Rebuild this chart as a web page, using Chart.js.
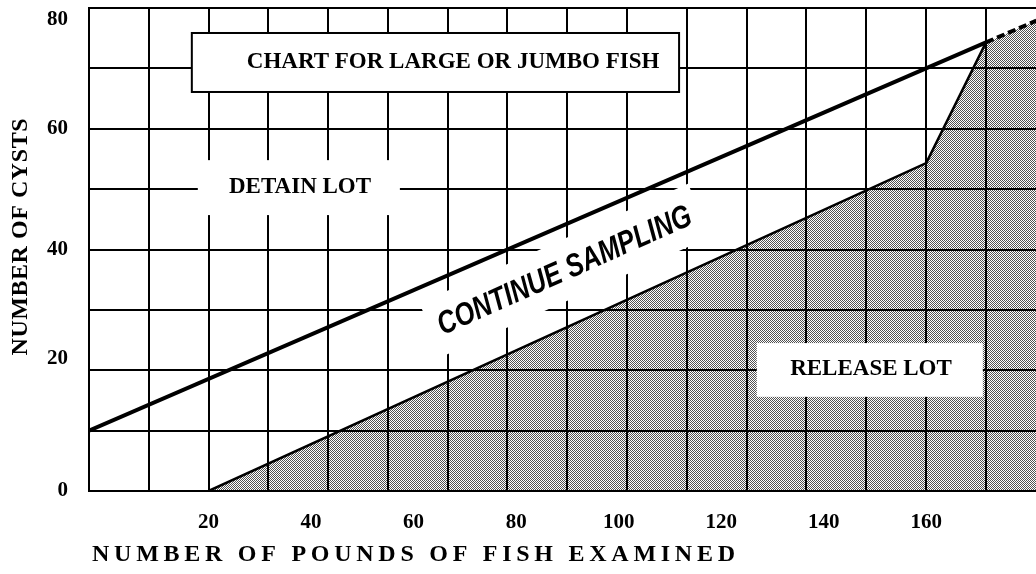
<!DOCTYPE html>
<html><head><meta charset="utf-8">
<script src="https://cdn.jsdelivr.net/npm/chart.js@4.4.1/dist/chart.umd.min.js"></script>
<style>html,body{margin:0;padding:0;background:#fff}</style>
</head><body>
<canvas id="c" width="1036" height="574"></canvas>
<script>
// ---- data ----
const poundTicks = [20, 40, 60, 80, 100, 120, 140, 160];
const cystTicks = [0, 20, 40, 60, 80];
const gridCells = [0,1,2,3,4,5,6,7,8,9,10,11,12,13,14,15];
const detainX = [-3.33, 171.67];
const detainY = [10, 74.3];
const detainExtX = [171.67, 181.5];
const detainExtY = [74.3, 77.9];
const releaseX = [20, 160, 171.67];
const releaseY = [0, 54.3, 74.3];
const shadeX = [20, 160, 171.67, 181.5];
const shadeY = [0, 54.3, 74.3, 77.9];
const xMin = -3.33, xMax = 181.42;   // pounds
const cellMax = 15.84;               // grid cells across the plot
const xTitle = 'NUMBER OF POUNDS OF FISH EXAMINED';
const yTitle = 'NUMBER OF CYSTS';

const zip = (xs, ys) => xs.map((x, i) => ({x, y: ys[i]}));
const SERIF = '"Liberation Serif", "Times New Roman", serif';

function stipple() {
  const c = document.createElement('canvas'); c.width = 2; c.height = 2;
  const g = c.getContext('2d');
  g.fillStyle = 'rgba(0,0,0,0.68)';
  g.fillRect(0, 0, 1, 1); g.fillRect(1, 1, 1, 1);
  return g.createPattern(c, 'repeat');
}

function P(chart, cx, cy) {
  return [chart.scales.xg.getPixelForValue(cx), chart.scales.y.getPixelForValue(cy)];
}
function whiteBox(chart, x0, y0, x1, y1, border) {
  const ctx = chart.ctx;
  const [a, b] = P(chart, x0, y0), [c, d] = P(chart, x1, y1);
  ctx.save();
  ctx.fillStyle = '#fff';
  ctx.fillRect(a, b, c - a, d - b);
  if (border) { ctx.strokeStyle = '#000'; ctx.lineWidth = 2; ctx.strokeRect(a, b, c - a, d - b); }
  ctx.restore();
}
function label(chart, text, cx, cy, font) {
  const ctx = chart.ctx; const [x, y] = P(chart, cx, cy);
  ctx.save(); ctx.fillStyle = '#000'; ctx.font = font;
  ctx.textAlign = 'center'; ctx.textBaseline = 'middle';
  ctx.fillText(text, x, y); ctx.restore();
}
function spanText(ctx, text, x, y, targetW) {
  const natural = ctx.measureText(text).width;
  const extra = (targetW - natural) / (text.length - 1);
  if ('letterSpacing' in ctx) {
    ctx.letterSpacing = extra.toFixed(2) + 'px';
    ctx.fillText(text, x, y);
    ctx.letterSpacing = '0px';
  } else {
    ctx.fillText(text, x, y);
  }
}

const notes = {
  id: 'notes',
  beforeDatasetsDraw(chart) {
    const ctx = chart.ctx;
    whiteBox(chart, 1.82, 54.8, 5.2, 45.7, false);
    label(chart, 'DETAIN LOT', 3.53, 50.3, 'bold 23px ' + SERIF);
    const [x, y] = P(chart, 7.96, 36.4);
    ctx.save();
    ctx.translate(x, y); ctx.rotate(-24 * Math.PI / 180);
    ctx.fillStyle = '#fff';
    ctx.fillRect(-146, -30, 294, 58);
    ctx.font = 'italic bold 32px "Liberation Sans", Arial, sans-serif';
    const w = ctx.measureText('CONTINUE SAMPLING').width;
    ctx.scale(275 / w, 1);
    ctx.fillStyle = '#000'; ctx.textAlign = 'center'; ctx.textBaseline = 'middle';
    ctx.fillText('CONTINUE SAMPLING', 0, 0);
    ctx.restore();
  },
  afterDatasetsDraw(chart) {
    whiteBox(chart, 1.72, 75.86, 9.87, 66.09, true);
    label(chart, 'CHART FOR LARGE OR JUMBO FISH', 6.09, 71.0, 'bold 23px ' + SERIF);
    whiteBox(chart, 11.17, 24.5, 14.95, 15.6, false);
    label(chart, 'RELEASE LOT', 13.08, 20.2, 'bold 23px ' + SERIF);
  },
  afterDraw(chart) {
    const ctx = chart.ctx, ca = chart.chartArea;
    ctx.save();
    ctx.fillStyle = '#000';
    ctx.font = 'bold 24px ' + SERIF;
    ctx.textAlign = 'left'; ctx.textBaseline = 'middle';
    spanText(ctx, xTitle, ca.left + 3, 555, 643);
    ctx.translate(21, 237); ctx.rotate(-Math.PI / 2);
    ctx.font = 'bold 24px ' + SERIF;
    const yw = 237;
    spanText(ctx, yTitle, -yw / 2, 0, yw);
    ctx.restore();
  }
};

// label nudges: the printed "80" sits a little below its line, "20" a little above
const yLabel = v => {
  if (!cystTicks.includes(v)) return '';
  if (v === 80) return ['', String(v)];
  if (v === 20) return [String(v), ''];
  return String(v);
};

new Chart(document.getElementById('c'), {
  type: 'scatter',
  data: {
    datasets: [
      {label: 'Detain boundary', data: zip(detainX, detainY), showLine: true,
       borderColor: '#000', borderWidth: 4, pointRadius: 0, fill: false},
      {label: 'Detain boundary (extended)', data: zip(detainExtX, detainExtY), showLine: true,
       borderColor: '#000', borderWidth: 4, borderDash: [8, 4], pointRadius: 0, fill: false},
      {label: 'Release boundary', data: zip(releaseX, releaseY), showLine: true,
       borderColor: '#000', borderWidth: 2.5, pointRadius: 0, fill: false},
      {label: 'Release area', data: zip(shadeX, shadeY), showLine: true,
       borderColor: 'rgba(0,0,0,0)', borderWidth: 0, pointRadius: 0,
       backgroundColor: stipple(), fill: 'origin'}
    ]
  },
  options: {
    responsive: false, animation: false,
    layout: {padding: 0},
    plugins: {legend: {display: false}, tooltip: {enabled: false}},
    scales: {
      x: {
        type: 'linear', position: 'bottom', min: xMin, max: xMax,
        afterBuildTicks: s => { s.ticks = poundTicks.map(v => ({value: v})); },
        afterFit: s => { s.height = 83; s.paddingLeft = 0; s.paddingRight = 0; },
        grid: {display: false, drawTicks: false},
        border: {display: true, color: '#000', width: 2},
        ticks: {color: '#000', font: {family: SERIF, size: 21, weight: 'bold'}, padding: 19, maxRotation: 0, autoSkip: false}
      },
      xg: {
        type: 'linear', position: 'top', min: 0, max: cellMax,
        afterBuildTicks: s => { s.ticks = gridCells.map(v => ({value: v})); },
        afterFit: s => { s.height = 8; s.paddingLeft = 0; s.paddingRight = 0; },
        grid: {color: '#000', lineWidth: 2, drawTicks: false},
        border: {display: true, color: '#000', width: 2},
        ticks: {display: false}
      },
      y: {
        type: 'linear', min: 0, max: 80,
        afterFit: s => { s.width = 89; s.paddingTop = 0; s.paddingBottom = 0; },
        grid: {color: '#000', lineWidth: 2, drawTicks: false},
        border: {display: true, color: '#000', width: 2},
        ticks: {stepSize: 10, color: '#000', padding: 21, font: {family: SERIF, size: 21, weight: 'bold', lineHeight: 1.1},
                callback: yLabel}
      }
    }
  },
  plugins: [notes]
});
</script>
</body></html>
